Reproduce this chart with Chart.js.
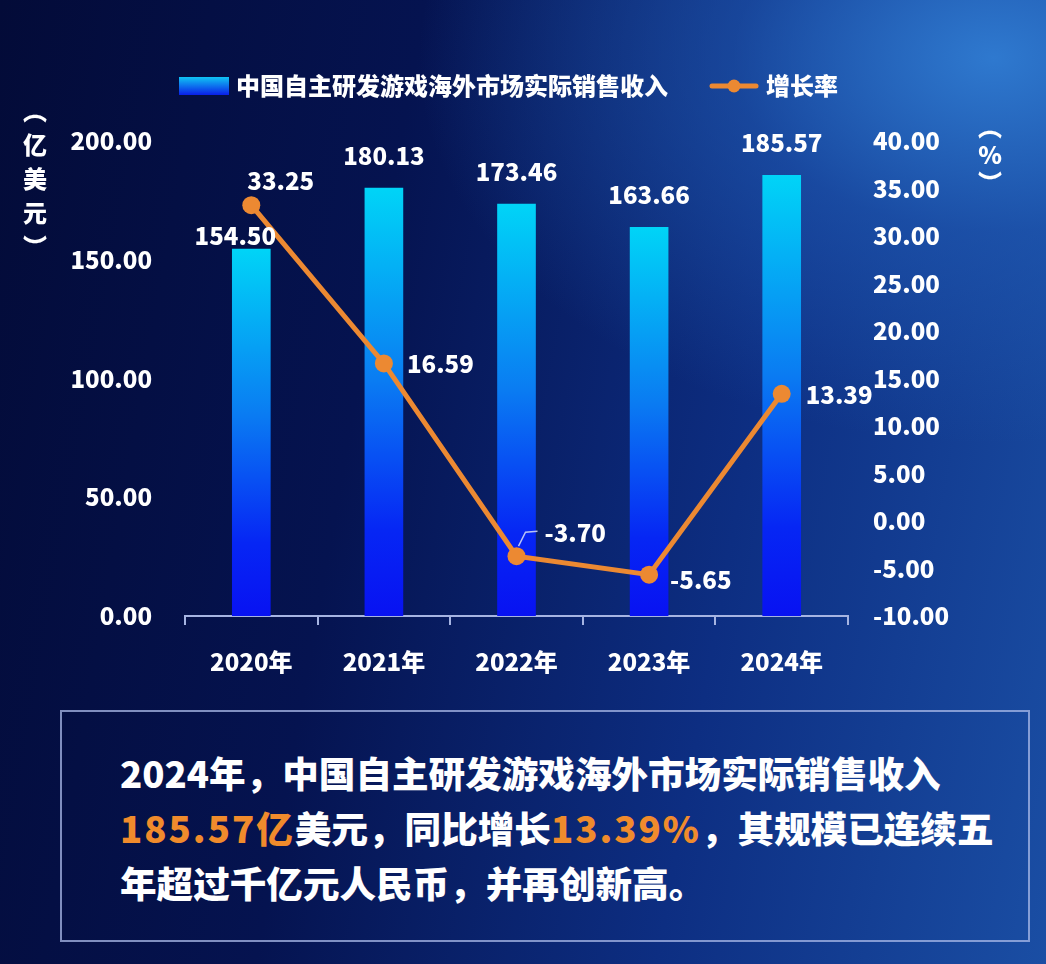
<!DOCTYPE html>
<html lang="zh-CN">
<head>
<meta charset="utf-8">
<title>中国自主研发游戏海外市场实际销售收入</title>
<script src="https://cdn.jsdelivr.net/npm/chart.js@4.4.1/dist/chart.umd.min.js"></script>
<style>
    html, body { margin: 0; padding: 0; }
    body {
        width: 1046px;
        height: 964px;
        overflow: hidden;
        position: relative;
        font-family: "Noto Sans CJK SC", "Noto Sans", sans-serif;
        background:
            radial-gradient(ellipse 55% 40% at 95% 6%, rgba(48, 124, 210, 0.95) 0%, rgba(34, 94, 184, 0.55) 45%, rgba(20, 60, 150, 0) 100%),
            linear-gradient(100deg, #030b38 0%, #051350 35%, #0d2e82 68%, #1a4ea4 100%);
    }
    .chart-wrap { position: absolute; left: 0; top: 0; width: 1046px; height: 700px; }
    .summary {
        position: absolute;
        left: 60px;
        top: 710px;
        width: 970px;
        height: 232px;
        box-sizing: border-box;
        border: 2px solid rgba(170, 186, 232, 0.75);
        padding: 33px 0 0 58px;
        color: #ffffff;
        font-size: 36.6px;
        font-weight: 900;
        line-height: 55px;
        white-space: nowrap;
    }
    .summary em { font-style: normal; color: #f08b2c; letter-spacing: 2px; }
</style>
</head>
<body>
<div class="chart-wrap"><canvas id="gameChart" width="1046" height="700"></canvas></div>
<div class="summary">
    2024年，中国自主研发游戏海外市场实际销售收入<br>
    <em>185.57亿</em>美元，同比增长<em>13.39%</em>，其规模已连续五<br>
    年超过千亿元人民币，并再创新高。
</div>

<script>
// chart data
const years = ["2020年", "2021年", "2022年", "2023年", "2024年"];
const revenue = [154.50, 180.13, 173.46, 163.66, 185.57];
const growthRate = [33.25, 16.59, -3.70, -5.65, 13.39];
const revenueTicks = [0, 50, 100, 150, 200];
const rateTicks = [-10, -5, 0, 5, 10, 15, 20, 25, 30, 35, 40];
const seriesNames = ["中国自主研发游戏海外市场实际销售收入", "增长率"];
const leftUnit = ["︵", "亿", "美", "元", "︶"];
const rightUnit = ["︵", "%", "︶"];

// label nudges (px) so the numbers sit like in the original
const revenueLabelShift = [[-16, -13], [0, -32], [0, -32], [0, -32], [0, -32]];
const rateLabelShift = [[-4, -24], [23, 0], [28, -23], [21, 5], [24, 1]];

const orange = "#ec8932";
const white = "#ffffff";
const axisColor = "#a6b4e2";
const labelFont = '900 24px "Noto Sans CJK SC", "Noto Sans", sans-serif';

Chart.defaults.font.family = '"Noto Sans CJK SC", "Noto Sans", sans-serif';
Chart.defaults.color = white;

// legend icons
function barIcon() {
    const c = document.createElement("canvas");
    c.width = 50; c.height = 18;
    const g = c.getContext("2d");
    const grad = g.createLinearGradient(0, 0, 0, 18);
    grad.addColorStop(0, "#10c4f4");
    grad.addColorStop(1, "#0a1ee8");
    g.fillStyle = grad;
    g.fillRect(0, 0, 50, 18);
    return c;
}
function lineIcon() {
    const c = document.createElement("canvas");
    c.width = 50; c.height = 18;
    const g = c.getContext("2d");
    g.strokeStyle = orange;
    g.lineWidth = 5;
    g.lineCap = "round";
    g.beginPath(); g.moveTo(3, 9); g.lineTo(47, 9); g.stroke();
    g.fillStyle = orange;
    g.beginPath(); g.arc(25, 9, 6.5, 0, Math.PI * 2); g.fill();
    return c;
}
const legendIcons = [barIcon(), lineIcon()];

// bar fill: each bar fades from cyan at its top to blue at the axis
function barFill(context) {
    const chart = context.chart;
    const area = chart.chartArea;
    if (!area || context.type !== "data") return "#0a5cf0";
    const top = chart.scales.y.getPixelForValue(context.raw);
    const grad = chart.ctx.createLinearGradient(0, top, 0, area.bottom);
    grad.addColorStop(0, "#00d4f7");
    grad.addColorStop(0.45, "#0a7cf2");
    grad.addColorStop(0.8, "#0626f4");
    grad.addColorStop(1, "#0812f2");
    return grad;
}

const valueLabels = {
    id: "valueLabels",
    afterDatasetsDraw(chart) {
        const ctx = chart.ctx;
        ctx.save();
        ctx.font = labelFont;
        ctx.fillStyle = white;
        ctx.textBaseline = "middle";

        ctx.textAlign = "center";
        chart.getDatasetMeta(0).data.forEach((bar, i) => {
            const s = revenueLabelShift[i];
            ctx.fillText(revenue[i].toFixed(2), bar.x + s[0], bar.y + s[1]);
        });

        ctx.textAlign = "left";
        chart.getDatasetMeta(1).data.forEach((pt, i) => {
            const s = rateLabelShift[i];
            ctx.fillText(growthRate[i].toFixed(2), pt.x + s[0], pt.y + s[1]);
        });

        // little leader line for the 2022 label
        const p = chart.getDatasetMeta(1).data[2];
        ctx.strokeStyle = "rgba(215, 222, 245, 0.85)";
        ctx.lineWidth = 1.5;
        ctx.beginPath();
        ctx.moveTo(p.x + 2, p.y - 10);
        ctx.lineTo(p.x + 9, p.y - 24);
        ctx.lineTo(p.x + 21, p.y - 25);
        ctx.stroke();

        // vertical unit titles
        const ca = chart.chartArea;
        ctx.textAlign = "center";
        leftUnit.forEach((ch, i) => ctx.fillText(ch, 35, ca.top - 30 + i * 34));
        rightUnit.forEach((ch, i) => ctx.fillText(ch, 990, ca.top - 14 + i * 28));
        ctx.restore();
    }
};

new Chart(document.getElementById("gameChart"), {
    type: "bar",
    data: {
        labels: years,
        datasets: [{
            type: "bar",
            label: seriesNames[0],
            data: revenue,
            yAxisID: "y",
            order: 1,
            backgroundColor: barFill,
            borderWidth: 0,
            barThickness: 38
        }, {
            type: "line",
            label: seriesNames[1],
            data: growthRate,
            yAxisID: "y1",
            order: 0,
            borderColor: orange,
            borderWidth: 5,
            backgroundColor: orange,
            pointBackgroundColor: orange,
            pointBorderWidth: 0,
            pointRadius: 9,
            tension: 0
        }]
    },
    options: {
        responsive: false,
        animation: false,
        devicePixelRatio: 1,
        layout: {
            padding: { top: 28, right: 24, left: 0, bottom: 0 }
        },
        plugins: {
            tooltip: { enabled: false },
            // empty title used only as a spacer between legend and plot
            title: {
                display: true,
                text: "",
                weight: 500,
                font: { size: 12, lineHeight: 1 },
                padding: { top: 0, bottom: 21 }
            },
            legend: {
                position: "top",
                labels: {
                    usePointStyle: true,
                    pointStyleWidth: 40,
                    padding: 46,
                    color: white,
                    font: { size: 24, weight: "900" },
                    generateLabels: function (chart) {
                        return chart.data.datasets.map((ds, i) => ({
                            text: ds.label,
                            pointStyle: legendIcons[i],
                            fontColor: white,
                            fillStyle: "transparent",
                            strokeStyle: "transparent",
                            lineWidth: 0,
                            hidden: false,
                            datasetIndex: i
                        }));
                    }
                }
            }
        },
        scales: {
            x: {
                grid: {
                    display: true,
                    drawOnChartArea: false,
                    drawTicks: true,
                    tickLength: 9,
                    color: axisColor,
                    lineWidth: 2
                },
                border: { display: true, color: axisColor, width: 2 },
                ticks: {
                    color: white,
                    padding: 22,
                    font: { size: 24, weight: "900" }
                },
                afterFit: function (scale) { scale.height = 84; }
            },
            y: {
                position: "left",
                min: 0,
                max: 200,
                grid: { display: false, drawTicks: false },
                border: { display: false },
                afterBuildTicks: function (scale) {
                    scale.ticks = revenueTicks.map(v => ({ value: v }));
                },
                ticks: {
                    color: white,
                    padding: 33,
                    font: { size: 24, weight: "900" },
                    callback: v => Number(v).toFixed(2)
                },
                afterFit: function (scale) { scale.width = 185; }
            },
            y1: {
                position: "right",
                min: -10,
                max: 40,
                grid: { display: false, drawTicks: false },
                border: { display: false },
                afterBuildTicks: function (scale) {
                    scale.ticks = rateTicks.map(v => ({ value: v }));
                },
                ticks: {
                    color: white,
                    padding: 25,
                    font: { size: 24, weight: "900" },
                    callback: v => Number(v).toFixed(2)
                },
                afterFit: function (scale) { scale.width = 174; }
            }
        }
    },
    plugins: [valueLabels]
});
</script>
</body>
</html>
